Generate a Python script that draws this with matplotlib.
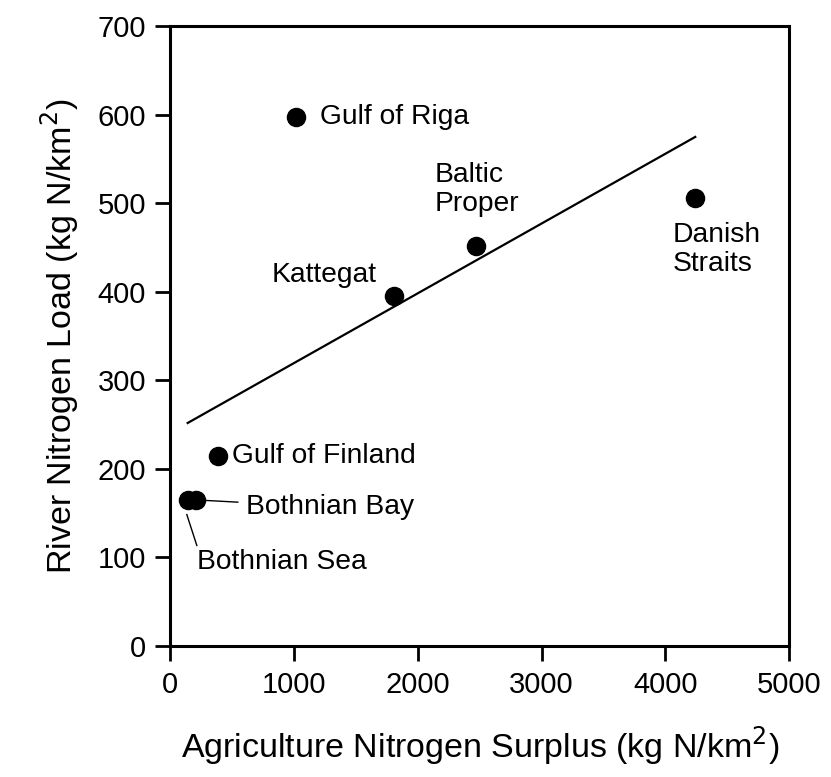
import numpy as np
import matplotlib.pyplot as plt

plt.rcParams['font.family'] = ['Liberation Sans', 'DejaVu Sans']

# Baltic sub-basins: agricultural N surplus vs river N load
basins = ["Bothnian Sea", "Bothnian Bay", "Gulf of Finland", "Gulf of Riga",
          "Kattegat", "Baltic Proper", "Danish Straits"]
surplus = [140, 205, 386, 1016, 1805, 2473, 4242]   # kg N/km2
load = [164, 164, 214, 597, 395, 452, 506]           # kg N/km2

# label text and anchor (x, y) in data units
label_text = ["Bothnian Sea", "Bothnian Bay", "Gulf of Finland", "Gulf of Riga",
              "Kattegat", "Baltic\nProper", "Danish\nStraits"]
label_x = [214, 610, 500, 1213, 1666, 2136, 4056]
label_y = [94, 156, 214, 597, 419, 515, 447]
label_ha = ["left", "left", "left", "left", "right", "left", "left"]

x_ticks = [0, 1000, 2000, 3000, 4000, 5000]
y_ticks = [0, 100, 200, 300, 400, 500, 600, 700]

fig = plt.figure(figsize=(8.31, 7.77), dpi=100)
ax = fig.add_axes([0.205, 0.1692, 0.7445, 0.7973])

# linear regression over the data range
slope, intercept = np.polyfit(surplus, load, 1)
x_fit = np.array([min(surplus), max(surplus)])
ax.plot(x_fit, intercept + slope * x_fit, color="black", linewidth=1.6, zorder=2)

ax.scatter(surplus, load, s=170, color="black", zorder=3)

for txt, lx, ly, ha in zip(label_text, label_x, label_y, label_ha):
    ax.text(lx, ly, txt, fontsize=20.3, ha=ha, va="center",
            linespacing=1.15, zorder=4)

# leader lines for the two overlapping Bothnian points
ax.plot([279, 545], [164, 162], color="black", linewidth=1.0)
ax.plot([133, 214], [148, 113], color="black", linewidth=1.0)

ax.set_xlim(0, 5000)
ax.set_ylim(0, 700)
ax.set_xticks(x_ticks)
ax.set_yticks(y_ticks)
ax.tick_params(axis="both", direction="out", length=10.5, width=2.0,
               labelsize=21)
ax.tick_params(axis="y", pad=7)
ax.tick_params(axis="x", pad=8)
for side in ax.spines.values():
    side.set_linewidth(2.2)

ax.set_xlabel("Agriculture Nitrogen Surplus (kg N/km$^2$)", fontsize=24.5, labelpad=18)
ax.set_ylabel("River Nitrogen Load (kg N/km$^2$)", fontsize=24.5, labelpad=12)

fig.savefig("out.png", dpi=100)
